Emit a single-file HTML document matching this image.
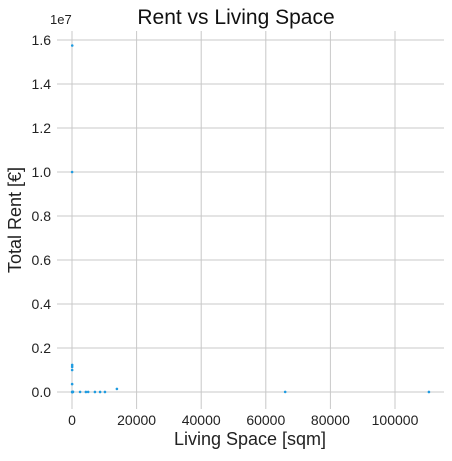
<!DOCTYPE html>
<html><head><meta charset="utf-8"><style>
body{margin:0;background:#fff;font-family:"Liberation Sans",sans-serif}
</style></head><body>
<svg id="c" width="452" height="456" font-family="Liberation Sans, sans-serif">
<text x="236" y="24" text-anchor="middle" font-size="21" fill="#111">Rent vs Living Space</text>
<text x="50" y="24" font-size="13" fill="#222">1e7</text>
<text x="250" y="445" text-anchor="middle" font-size="18" fill="#222">Living Space [sqm]</text>
<text transform="translate(21,220) rotate(-90)" text-anchor="middle" font-size="18" fill="#222">Total Rent [€]</text>
<g id="grid"></g><g id="ticks"></g><g id="pts"></g>
</svg>
<script>
const xTicks=[0,20000,40000,60000,80000,100000];
const yTicks=[0,0.2,0.4,0.6,0.8,1.0,1.2,1.4,1.6];
const livingSpace=[50,60,80,100,120,150,200,300,2500,4300,5000,7100,8700,10200,13900,66000,110500,40,45,50,55,30];
const totalRent=[500,800,1000,1500,2000,3000,5000,8000,3000,2000,5000,2000,2000,1500,140000,3000,2000,360000,1000000,1140000,1230000,10000000];
const xs=[...livingSpace,70];
const ys=[...totalRent,15750000];
const sx=v=>72+v*64.6/20000, sy=v=>392-v*220/1e7;
const ns="http://www.w3.org/2000/svg";
const G=document.getElementById('grid'),T=document.getElementById('ticks'),P=document.getElementById('pts');
function mk(p,t,a){const e=document.createElementNS(ns,t);for(const k in a)e.setAttribute(k,a[k]);p.appendChild(e);return e;}
xTicks.forEach(v=>{const l=mk(G,'line',{x1:sx(v),x2:sx(v),y1:31,y2:409,stroke:'#c8c8c8','stroke-width':1});


const t=mk(T,'text',{x:sx(v),y:425,'text-anchor':'middle','font-size':14,fill:'#222'});t.textContent=v;

});
yTicks.forEach(v=>{const l=mk(G,'line',{x1:57,x2:444,y1:sy(v*1e7),y2:sy(v*1e7),stroke:'#c8c8c8','stroke-width':1});


const t=mk(T,'text',{x:51,y:sy(v*1e7)+5,'text-anchor':'end','font-size':14,fill:'#222'});t.textContent=v.toFixed(1);

});
xs.forEach((v,i)=>{const c=mk(P,'circle',{cx:sx(v),cy:sy(ys[i]),r:1.3,fill:'#1f9be0'});

});
</script>
</body></html>
